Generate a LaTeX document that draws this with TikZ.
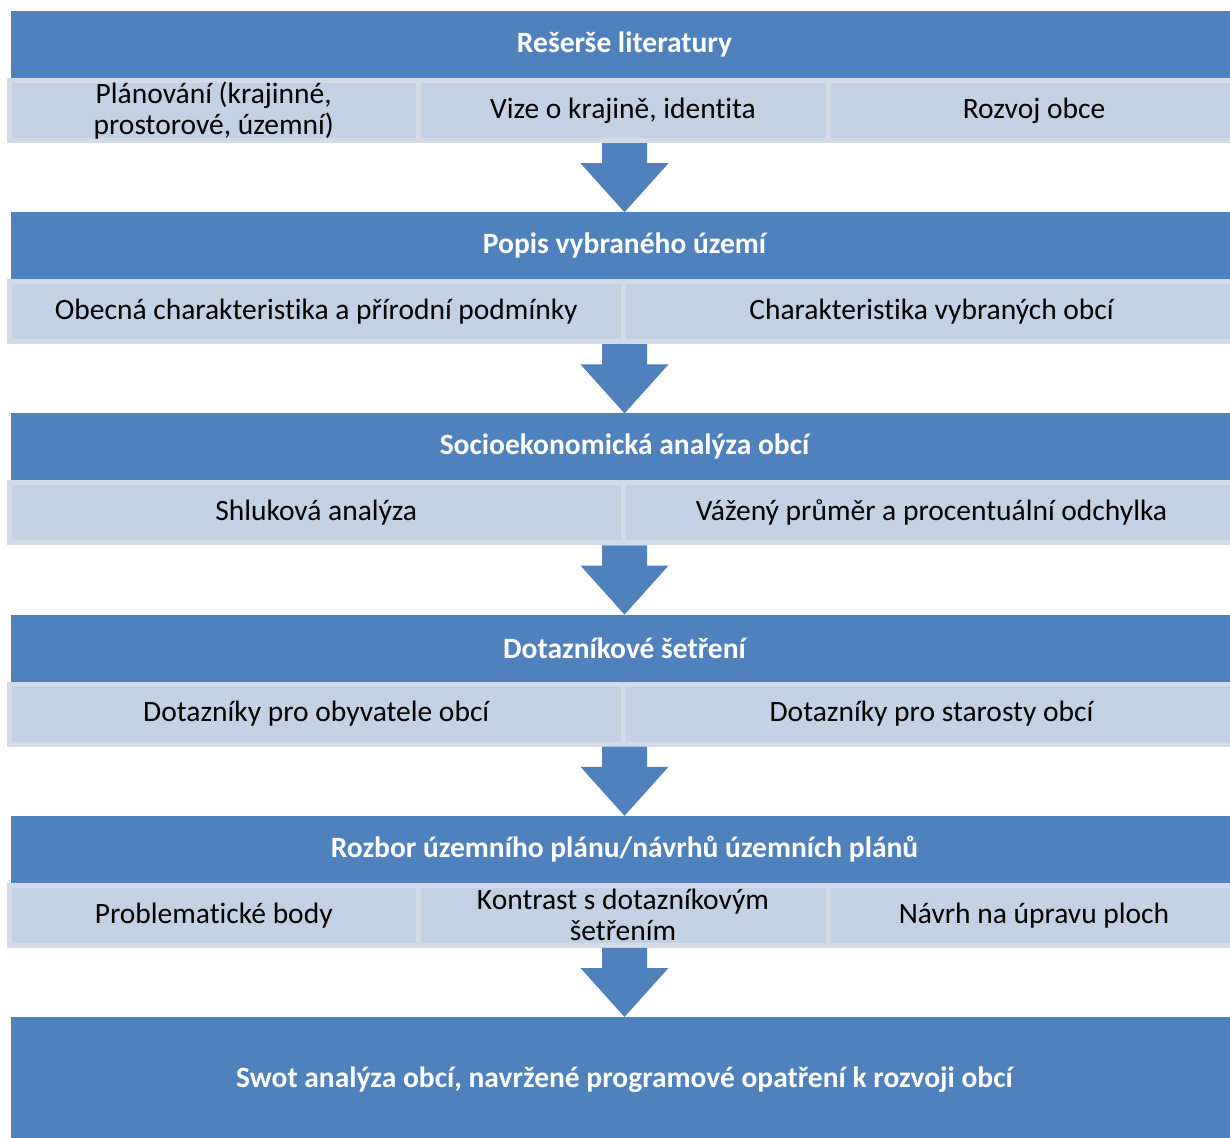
\documentclass[tikz,border=0pt]{standalone}
\usepackage{fontspec}
\setmainfont[Ligatures=NoCommon]{Carlito}
\usetikzlibrary{calc}

\definecolor{hdrblue}{HTML}{4F81BD}
\definecolor{subfill}{HTML}{C4D0E3}
\definecolor{subedge}{HTML}{D3DBE9}

% block arrow from a sub row (#1) down to the next header (#2)
\newcommand{\flowarrow}[2]{%
  \fill[hdrblue] let \p1=(#1.south), \p2=(#2.north) in
    (\x2,\y2) -- (\x2-44pt,\y2+49pt) -- (\x2-22.5pt,\y2+49pt) -- (\x2-22.5pt,\y1)
    -- (\x2+22.5pt,\y1) -- (\x2+22.5pt,\y2+49pt) -- (\x2+44pt,\y2+49pt) -- cycle;}

\begin{document}
\begin{tikzpicture}[
  x=1pt, y=-1pt,
  header/.style={rectangle, fill=hdrblue, anchor=north west, inner sep=0pt, outer sep=0pt,
    minimum width=1227pt, minimum height=67pt, text=white,
    font=\fontsize{29.5}{31}\selectfont\bfseries},
  sub/.style={rectangle, fill=subfill, draw=subedge, line width=5pt, anchor=north west,
    inner sep=0pt, minimum height=60pt, align=center,
    font=\fontsize{29.5}{31}\selectfont}
]
\useasboundingbox (0,0) rectangle (1230,1137);

\node[header] (lit) at (11,11) {Rešerše literatury};
\node[header] (popis) at (11,212.2) {Popis vybraného území};
\node[header] (socio) at (11,413.4) {Socioekonomická analýza obcí};
\node[header] (dotaz) at (11,614.6) {Dotazníkové šetření};
\node[header] (rozbor) at (11,815.8) {Rozbor územního plánu/návrhů územních plánů};
\node[header, minimum height=126pt] (swot) at (11,1017) {Swot analýza obcí, navržené programové opatření k rozvoji obcí};

\node[sub, minimum width=408.5pt] (lita) at (7,78) {Plánování (krajinné,\\prostorové, územní)};
\node[sub, minimum width=410pt] (litb) at (415.5,78) {Vize o krajině, identita};
\node[sub, minimum width=412pt] (litc) at (825.5,78) {Rozvoj obce};

\node[sub, minimum width=613.5pt] (popisa) at (7,279.2) {Obecná charakteristika a přírodní podmínky};
\node[sub, minimum width=617pt] (popisb) at (620.5,279.2) {Charakteristika vybraných obcí};

\node[sub, minimum width=613.5pt] (socioa) at (7,480.4) {Shluková analýza};
\node[sub, minimum width=617pt] (sociob) at (620.5,480.4) {Vážený průměr a procentuální odchylka};

\node[sub, minimum width=613.5pt] (dotaza) at (7,681.6) {Dotazníky pro obyvatele obcí};
\node[sub, minimum width=617pt] (dotazb) at (620.5,681.6) {Dotazníky pro starosty obcí};

\node[sub, minimum width=408.5pt] (rozbora) at (7,882.8) {Problematické body};
\node[sub, minimum width=410pt] (rozborb) at (415.5,882.8) {Kontrast s dotazníkovým\\šetřením};
\node[sub, minimum width=412pt] (rozborc) at (825.5,882.8) {Návrh na úpravu ploch};

\flowarrow{lita}{popis}
\flowarrow{popisa}{socio}
\flowarrow{socioa}{dotaz}
\flowarrow{dotaza}{rozbor}
\flowarrow{rozbora}{swot}
\end{tikzpicture}
\end{document}
